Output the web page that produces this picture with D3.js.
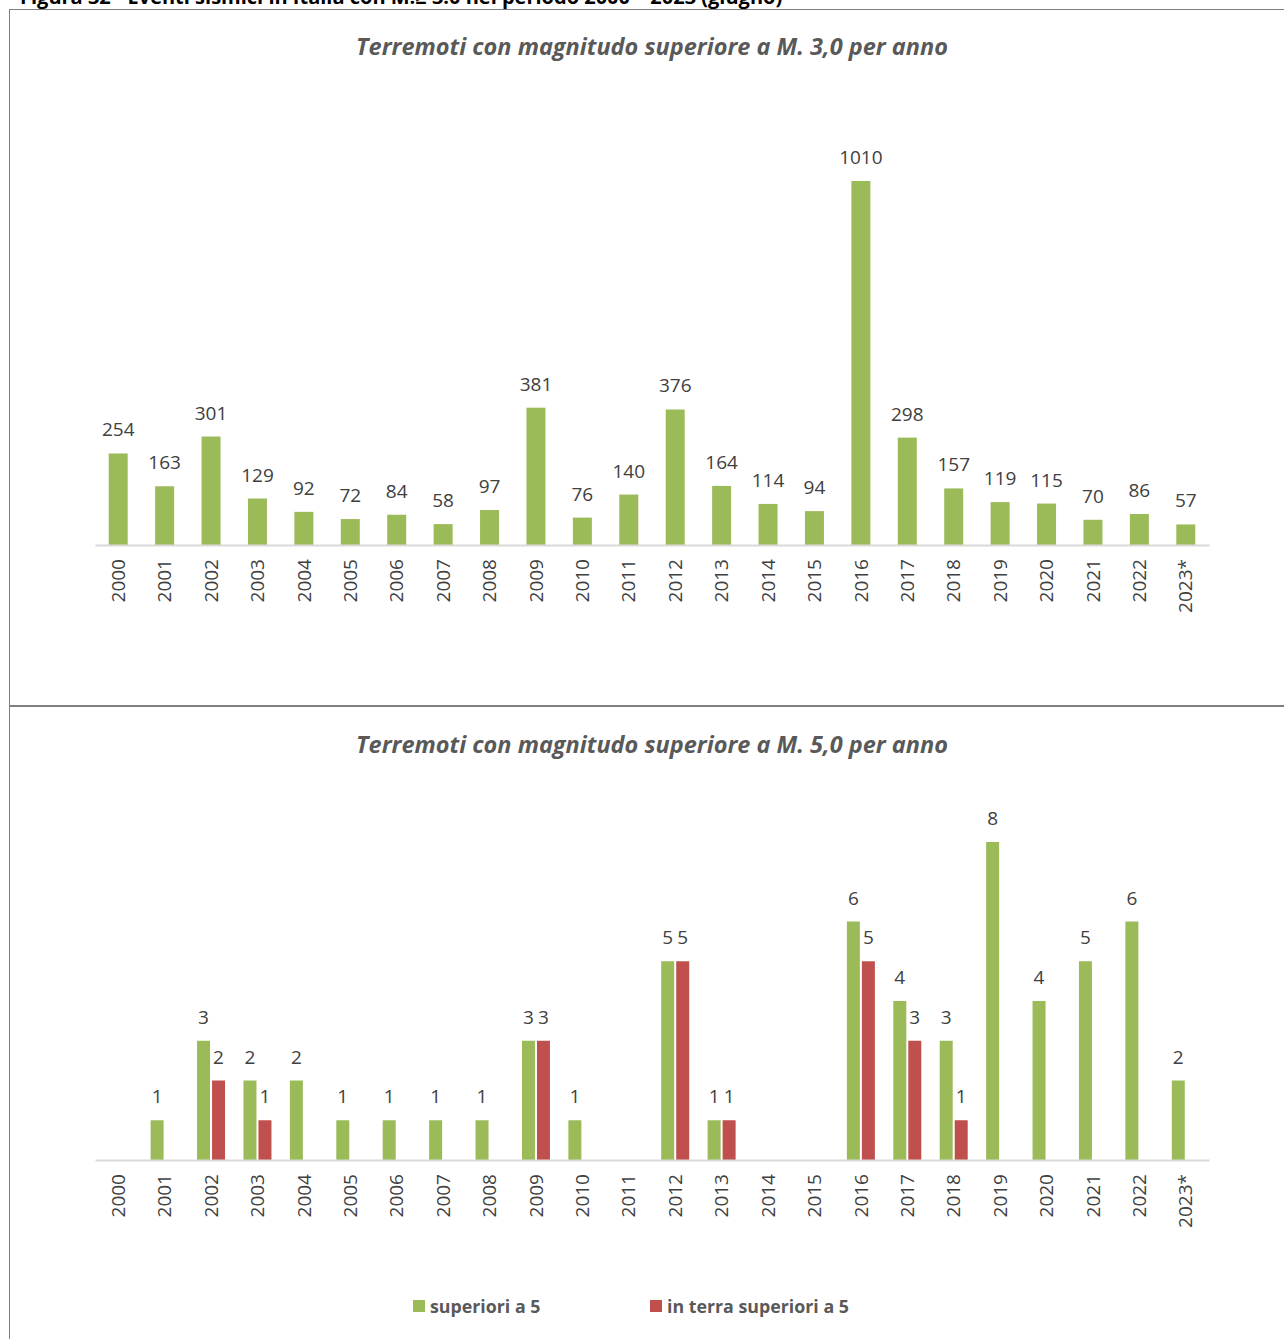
<!DOCTYPE html>
<html><head><meta charset="utf-8">
<script src="https://cdn.jsdelivr.net/npm/d3@7"></script>
<style>body{margin:0;background:#fff}svg{display:block}</style>
</head><body>
<script>
const years = ["2000","2001","2002","2003","2004","2005","2006","2007","2008","2009","2010","2011","2012","2013","2014","2015","2016","2017","2018","2019","2020","2021","2022","2023*"];
const eventsM3 = [254,163,301,129,92,72,84,58,97,381,76,140,376,164,114,94,1010,298,157,119,115,70,86,57];
const superiori5 = [null,1,3,2,2,1,1,1,1,3,1,null,5,1,null,null,6,4,3,8,4,5,6,2];
const terraSuperiori5 = [null,null,2,1,null,null,null,null,null,3,null,null,5,1,null,null,5,3,1,null,null,null,null,null];
const header = "Figura 32 - Eventi sismici in Italia con M.≥ 3.0 nel periodo 2000 – 2023 (giugno)";
const title1 = "Terremoti con magnitudo superiore a M. 3,0 per anno";
const title2 = "Terremoti con magnitudo superiore a M. 5,0 per anno";
const legendLabels = ["superiori a 5","in terra superiori a 5"];

const W=1284,H=1339;
const GREEN="#9BBB59",RED="#C0504D",TXT="#404040",TTL="#595959";
const FONT="'Open Sans', 'Liberation Sans', sans-serif";
const svg=d3.select("body").append("svg").attr("width",W).attr("height",H).style("font-family",FONT);

// header (cut off at the top, as in the source page)
svg.append("text").attr("x",20).attr("y",4).attr("font-weight","bold").attr("font-size",20).attr("fill","#000").text(header);
// frame
svg.append("line").attr("x1",9).attr("x2",W).attr("y1",9.5).attr("y2",9.5).attr("stroke","#7f7f7f").attr("stroke-width",1);
svg.append("line").attr("x1",9.5).attr("x2",9.5).attr("y1",9).attr("y2",H).attr("stroke","#7f7f7f").attr("stroke-width",1);
svg.append("line").attr("x1",9).attr("x2",W).attr("y1",706).attr("y2",706).attr("stroke","#7f7f7f").attr("stroke-width",2);

const x=d3.scaleBand().domain(years).range([95,1209]).paddingInner(0).paddingOuter(0);
const FS=19;

// ---- chart 1
const g1=svg.append("g");
g1.append("text").attr("x",652).attr("y",55).attr("text-anchor","middle").attr("font-size",23.5).attr("font-weight","bold").attr("font-style","italic").attr("fill",TTL).text(title1);
const y1=d3.scaleLinear().domain([0,1010]).range([545,181]);
const bw1=19;
g1.selectAll("rect").data(eventsM3).join("rect")
  .attr("x",(d,i)=>x(years[i])+x.bandwidth()/2-bw1/2).attr("width",bw1)
  .attr("y",d=>y1(d)).attr("height",d=>y1(0)-y1(d)).attr("fill",GREEN);
g1.selectAll("text.v").data(eventsM3).join("text").attr("class","v")
  .attr("x",(d,i)=>x(years[i])+x.bandwidth()/2).attr("y",d=>y1(d)-17)
  .attr("text-anchor","middle").attr("font-size",FS).attr("fill",TXT).text(d=>d);
const ax1=g1.append("g").attr("transform","translate(0,545)").call(d3.axisBottom(x).tickSize(0).tickPadding(0));
ax1.select(".domain").attr("stroke","#d9d9d9").attr("stroke-width",2);
ax1.selectAll("text").attr("font-size",FS).attr("fill",TXT).attr("font-family",FONT)
  .attr("transform","rotate(-90)").attr("text-anchor","end").attr("x",-14).attr("y",0).attr("dy","0.35em");

// ---- chart 2
const g2=svg.append("g");
g2.append("text").attr("x",652).attr("y",753).attr("text-anchor","middle").attr("font-size",23.5).attr("font-weight","bold").attr("font-style","italic").attr("fill",TTL).text(title2);
const y2=d3.scaleLinear().domain([0,8]).range([1160,842]);
const bw2=13, off=7.5;
const series=[{vals:superiori5,c:GREEN,o:-off},{vals:terraSuperiori5,c:RED,o:off}];
series.forEach(s=>{
  const dat=s.vals.map((v,i)=>({v,i})).filter(d=>d.v!=null);
  g2.append("g").selectAll("rect").data(dat).join("rect")
    .attr("x",d=>x(years[d.i])+x.bandwidth()/2+s.o-bw2/2).attr("width",bw2)
    .attr("y",d=>y2(d.v)).attr("height",d=>y2(0)-y2(d.v)).attr("fill",s.c);
  g2.append("g").selectAll("text").data(dat).join("text")
    .attr("x",d=>x(years[d.i])+x.bandwidth()/2+s.o).attr("y",d=>y2(d.v)-17)
    .attr("text-anchor","middle").attr("font-size",FS).attr("fill",TXT).text(d=>d.v);
});
const ax2=g2.append("g").attr("transform","translate(0,1160)").call(d3.axisBottom(x).tickSize(0).tickPadding(0));
ax2.select(".domain").attr("stroke","#d9d9d9").attr("stroke-width",2);
ax2.selectAll("text").attr("font-size",FS).attr("fill",TXT).attr("font-family",FONT)
  .attr("transform","rotate(-90)").attr("text-anchor","end").attr("x",-14).attr("y",0).attr("dy","0.35em");

// legend
const lx=[413,650];
legendLabels.forEach((l,i)=>{
  svg.append("rect").attr("x",lx[i]).attr("y",1300).attr("width",12).attr("height",12).attr("fill",[GREEN,RED][i]);
  svg.append("text").attr("x",lx[i]+17).attr("y",1312.5).attr("font-size",17.8).attr("font-weight","bold").attr("fill",TTL).text(l);
});
</script>
</body></html>
